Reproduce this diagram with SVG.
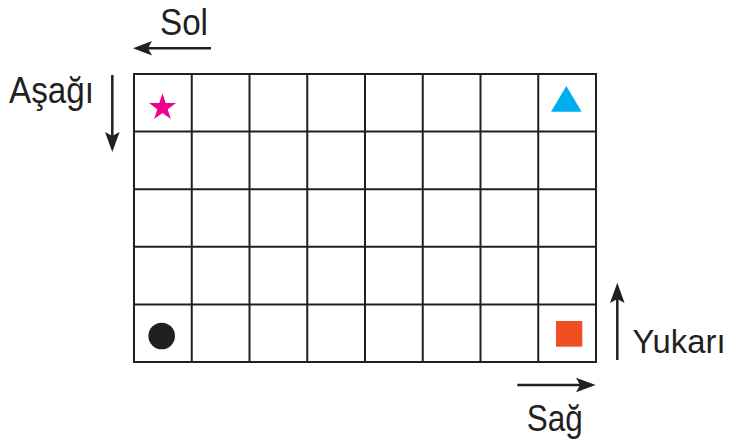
<svg xmlns="http://www.w3.org/2000/svg" width="731" height="445" viewBox="0 0 731 445">
<style>
.grid{fill:none;stroke:#231f20;stroke-width:2}
.lbl{font-family:"Liberation Sans",Arial,sans-serif;font-size:37px;fill:#231f20}
.arr{stroke:#231f20;stroke-width:2.5;fill:none}
.head{fill:#231f20}
</style>
<rect width="731" height="445" fill="#ffffff"/>
<g id="grid">
<rect class="grid" x="134" y="74" width="462" height="288"/>
<path class="grid" d="M191.75 74V362M249.5 74V362M307.25 74V362M365 74V362M422.75 74V362M480.5 74V362M538.25 74V362M134 131.6H596M134 189.2H596M134 246.8H596M134 304.4H596"/>
</g>
<g id="star"><polygon fill="#ec008c" points="162.5,93.3 165.69,103.12 176,103.1 167.65,109.17 170.85,119 162.5,112.92 154.15,119 157.35,109.17 149,103.1 159.31,103.12"/></g>
<g id="triangle"><polygon fill="#00aeef" points="566.3,86 581.7,111.7 551,111.7"/></g>
<g id="circle"><circle fill="#231f20" cx="161.7" cy="336" r="13.3"/></g>
<g id="square"><rect fill="#f04e23" x="556" y="321" width="26.3" height="25.7"/></g>
<g id="connectors">
<line class="arr" x1="211" y1="48.3" x2="148" y2="48.3"/>
<polygon class="head" points="133,48.3 152,41 148,48.3 152,55.6"/>
<line class="arr" x1="112.3" y1="75" x2="112.3" y2="138"/>
<polygon class="head" points="112.3,152 105,132 112.3,136 119.6,132"/>
<line class="arr" x1="617.3" y1="360" x2="617.3" y2="297"/>
<polygon class="head" points="617.3,282.7 610,303 617.3,299 624.6,303"/>
<line class="arr" x1="517.3" y1="385" x2="581" y2="385"/>
<polygon class="head" points="595.7,385 576,377.7 580,385 576,392.3"/>
</g>
<g id="labels">
<text class="lbl" x="160" y="35" textLength="48" lengthAdjust="spacingAndGlyphs">Sol</text>
<text class="lbl" x="9" y="103.3" textLength="85" lengthAdjust="spacingAndGlyphs">Aşağı</text>
<text class="lbl" x="632.5" y="353.3" style="font-size:34px" textLength="93" lengthAdjust="spacingAndGlyphs">Yukarı</text>
<text class="lbl" x="526.7" y="430.7" textLength="56" lengthAdjust="spacingAndGlyphs">Sağ</text>
</g>
</svg>
